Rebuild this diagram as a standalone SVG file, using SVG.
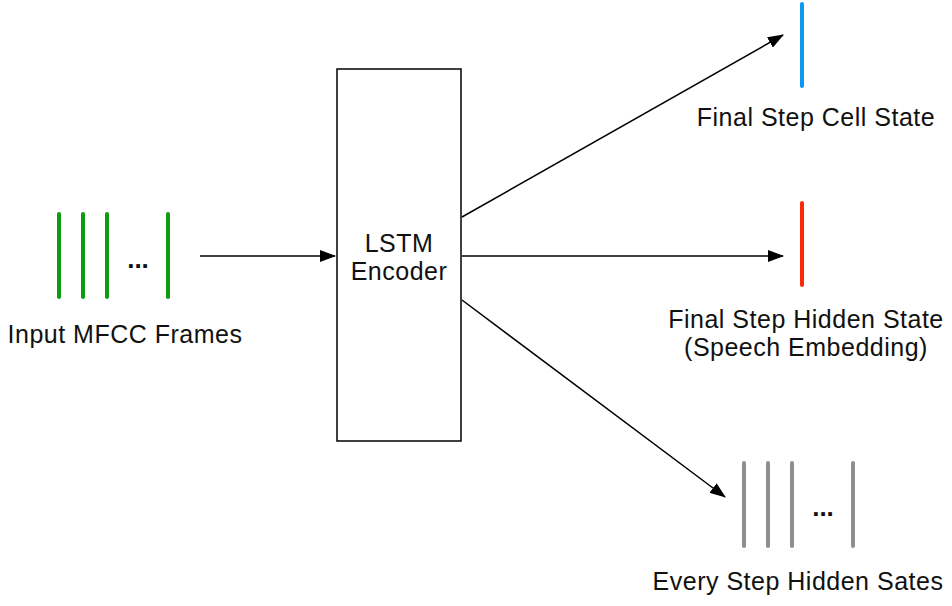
<svg xmlns="http://www.w3.org/2000/svg" width="952" height="606" viewBox="0 0 952 606">
<style>
text{font-family:"Liberation Sans",Arial,sans-serif;font-size:25px;letter-spacing:0.5px;fill:#111;text-anchor:middle}
.g{stroke:#139a13;stroke-width:4;stroke-linecap:round}
.gr{stroke:#8f8f8f;stroke-width:4;stroke-linecap:round}
.c{stroke:#000;stroke-width:1.5;fill:none;marker-end:url(#ah)}
.dots{font-weight:bold;font-size:26px;letter-spacing:0}
</style>
<defs>
<marker id="ah" markerWidth="16" markerHeight="12" refX="15" refY="6" orient="auto" markerUnits="userSpaceOnUse">
<path d="M0,0 L16,6 L0,12 Z" fill="#000"/>
</marker>
</defs>
<rect width="952" height="606" fill="#fff"/>
<g id="input">
<line class="g" x1="59" y1="214" x2="59" y2="297"/>
<line class="g" x1="83" y1="214" x2="83" y2="297"/>
<line class="g" x1="107" y1="214" x2="107" y2="297"/>
<line class="g" x1="168" y1="214" x2="168" y2="297"/>
<text class="dots" x="138" y="268">...</text>
<text x="125" y="343">Input MFCC Frames</text>
</g>
<g id="encoder">
<rect x="337" y="69" width="124" height="372" fill="#fff" stroke="#000" stroke-width="1.5"/>
<text x="399" y="252">LSTM</text>
<text x="399" y="280">Encoder</text>
</g>
<g id="cell">
<line x1="802" y1="4" x2="802" y2="86" stroke="#0e97f0" stroke-width="4" stroke-linecap="round"/>
<text x="816" y="126">Final Step Cell State</text>
</g>
<g id="hidden">
<line x1="802" y1="203" x2="802" y2="285" stroke="#fb2a06" stroke-width="4" stroke-linecap="round"/>
<text x="806" y="328">Final Step Hidden State</text>
<text x="806" y="356">(Speech Embedding)</text>
</g>
<g id="every">
<line class="gr" x1="744" y1="463" x2="744" y2="546"/>
<line class="gr" x1="768" y1="463" x2="768" y2="546"/>
<line class="gr" x1="792" y1="463" x2="792" y2="546"/>
<line class="gr" x1="853" y1="463" x2="853" y2="546"/>
<text class="dots" x="823" y="516">...</text>
<text x="798" y="590">Every Step Hidden Sates</text>
</g>
<g id="connectors">
<line class="c" x1="200" y1="256" x2="335" y2="256"/>
<line class="c" x1="462" y1="217" x2="783" y2="35"/>
<line class="c" x1="462" y1="256" x2="783" y2="256"/>
<line class="c" x1="462" y1="300" x2="725" y2="497"/>
</g>
</svg>
